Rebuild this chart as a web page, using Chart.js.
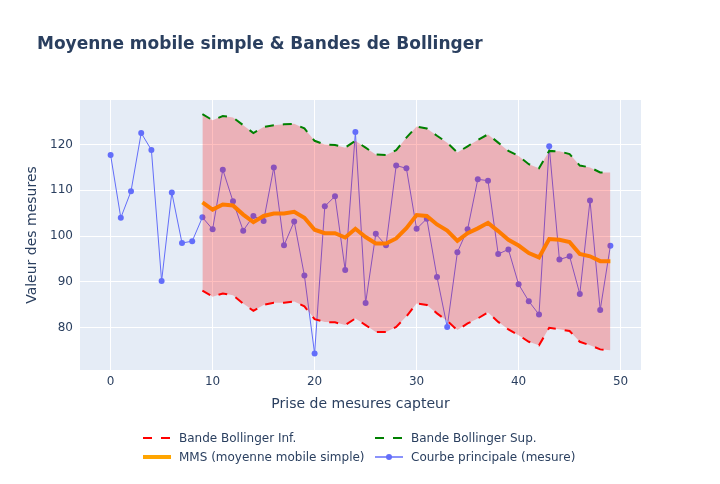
<!DOCTYPE html>
<html>
<head>
<meta charset="utf-8">
<script src="https://cdn.jsdelivr.net/npm/chart.js@4.4.1/dist/chart.umd.min.js"></script>
<style>
  body { margin: 0; background: #fff; }
  #wrap { position: relative; width: 720px; height: 484px; font-family: "DejaVu Sans", sans-serif; color: #2a3f5f; }
  #myChart { position: absolute; left: 0; top: 0; }
  #titre { position: absolute; left: 37px; top: 33px; font-size: 17px; font-weight: bold; line-height: 20px; white-space: nowrap; }
  .leg { position: absolute; height: 18px; font-size: 12px; line-height: 18px; white-space: nowrap; }
  .leg svg { position: absolute; left: 0; top: 0; }
  .leg span { position: absolute; left: 39px; top: 0; }
</style>
</head>
<body>
<div id="wrap">
  <canvas id="myChart" width="720" height="484"></canvas>
  <div id="titre">Moyenne mobile simple &amp; Bandes de Bollinger</div>
  <div id="legende"></div>
</div>
<script>
// valeurs
const mesures = [117.7, 104.0, 109.8, 122.5, 118.8, 90.2, 109.5, 98.5, 98.9, 104.1,
                 101.5, 114.5, 107.6, 101.2, 104.4, 103.3, 115.0, 98.0, 103.2, 91.4,
                 74.4, 106.5, 108.7, 92.6, 122.7, 85.4, 100.5, 98.0, 115.4, 114.8,
                 101.6, 103.8, 91.1, 80.2, 96.5, 101.5, 112.4, 112.1, 96.1, 97.1,
                 89.5, 85.8, 82.9, 119.6, 94.9, 95.6, 87.4, 107.8, 83.9, 97.9];

const debutMMS = 9; // fenetre de 10 mesures
const mms = [107.35, 105.8, 106.9, 106.7, 104.7, 103.05, 104.4, 104.95, 104.95, 105.3,
             104.0, 101.4, 100.65, 100.65, 99.7, 101.6, 99.8, 98.4, 98.4, 99.5,
             101.75, 104.6, 104.4, 102.55, 101.2, 98.95, 100.65, 101.7, 102.9, 101.1,
             99.2, 97.95, 96.3, 95.35, 99.35, 99.2, 98.7, 96.1, 95.6, 94.55, 94.55];
const bandeSup = [126.6, 125.3, 126.2, 125.9, 124.2, 122.5, 123.8, 124.2, 124.4, 124.5,
                  123.5, 120.8, 120.0, 119.9, 119.3, 120.8, 119.3, 117.8, 117.7, 118.75,
                  121.5, 123.9, 123.5, 121.9, 120.4, 118.25, 119.6, 121.0, 122.2, 120.4,
                  118.6, 117.5, 115.7, 114.8, 118.6, 118.5, 117.9, 115.4, 115.0, 113.9, 113.9];
const bandeInf = [88.1, 86.8, 87.5, 87.1, 85.3, 83.7, 85.0, 85.45, 85.45, 85.75,
                  84.7, 81.9, 81.25, 81.2, 80.6, 82.05, 80.6, 79.1, 79.1, 80.2,
                  82.5, 85.3, 85.0, 83.15, 81.5, 79.5, 80.95, 82.05, 83.35, 81.3,
                  79.65, 78.4, 76.95, 76.2, 80.0, 79.7, 79.3, 76.95, 76.2, 75.3, 75.1];

const xTicks = [0, 10, 20, 30, 40, 50];
const yTicks = [80, 90, 100, 110, 120];

const bleu = '#636EFA';
const texte = '#2a3f5f';
const police = 'DejaVu Sans';

function points(arr, start) {
    return arr.map(function(v, i) { return {x: i + start, y: v}; });
}

// fond gris-bleu de la zone de trace (comme plotly)
const fondZone = {
    id: 'fondZone',
    beforeDraw(chart) {
        const a = chart.chartArea;
        const ctx = chart.ctx;
        ctx.save();
        ctx.fillStyle = '#E5ECF6';
        ctx.fillRect(a.left, a.top, a.right - a.left, a.bottom - a.top);
        ctx.restore();
    }
};

const data = {
    datasets: [
        {
            label: 'Bande Bollinger Inf.',
            data: points(bandeInf, debutMMS),
            borderColor: 'red',
            borderWidth: 2,
            borderDash: [9, 9],
            pointRadius: 0,
            fill: false,
            order: 0
        },
        {
            label: 'Bande Bollinger Sup.',
            data: points(bandeSup, debutMMS),
            borderColor: 'green',
            borderWidth: 2,
            borderDash: [9, 9],
            pointRadius: 0,
            fill: '-1',
            backgroundColor: 'rgba(255,0,0,0.25)',
            order: 0
        },
        {
            label: 'MMS (moyenne mobile simple)',
            data: points(mms, debutMMS),
            borderColor: 'orange',
            borderWidth: 4,
            pointRadius: 0,
            fill: false,
            order: 1
        },
        {
            label: 'Courbe principale (mesure)',
            data: points(mesures, 0),
            borderColor: bleu,
            backgroundColor: bleu,
            borderWidth: 1,
            pointRadius: 3,
            pointBorderWidth: 0,
            pointBackgroundColor: bleu,
            fill: false,
            order: 1
        }
    ]
};

const config = {
    type: 'line',
    data: data,
    plugins: [fondZone],
    options: {
        responsive: false,
        animation: false,
        layout: { padding: {left: 0, right: 79, top: 100, bottom: 68} },
        elements: { line: { tension: 0 } },
        plugins: {
            legend: { display: false },
            title: { display: false },
            tooltip: { enabled: false }
        },
        scales: {
            x: {
                type: 'linear',
                min: -3,
                max: 52,
                afterBuildTicks: function(scale) {
                    scale.ticks = xTicks.map(function(v) { return {value: v}; });
                },
                afterFit: function(scale) { scale.height = 46; },
                grid: { color: '#ffffff', lineWidth: 1, drawTicks: false },
                border: { display: false },
                ticks: { padding: 5, color: texte, font: {family: police, size: 12} },
                title: {
                    display: true,
                    text: 'Prise de mesures capteur',
                    color: texte,
                    font: {family: police, size: 14},
                    padding: {bottom: 3}
                }
            },
            y: {
                type: 'linear',
                min: 70.8,
                max: 129.7,
                afterBuildTicks: function(scale) {
                    scale.ticks = yTicks.map(function(v) { return {value: v}; });
                },
                afterFit: function(scale) { scale.width = 80; },
                grid: { color: '#ffffff', lineWidth: 1, drawTicks: false },
                border: { display: false },
                ticks: { padding: 7, color: texte, font: {family: police, size: 12} },
                title: {
                    display: true,
                    text: 'Valeur des mesures',
                    color: texte,
                    font: {family: police, size: 14},
                    padding: {top: 24}
                }
            }
        }
    }
};

const ctx = document.getElementById('myChart').getContext('2d');
var chart = new Chart(ctx, config);

// legende facon plotly (2 colonnes)
const legPos = [[140, 429], [372, 429], [140, 448], [372, 448]];
const leg = document.getElementById('legende');
data.datasets.forEach(function(ds, i) {
    var d = document.createElement('div');
    d.className = 'leg';
    d.style.left = legPos[i][0] + 'px';
    d.style.top = legPos[i][1] + 'px';
    var dash = ds.borderDash ? ' stroke-dasharray="9,9"' : '';
    var w = ds.borderWidth === 1 ? 1.5 : ds.borderWidth;
    var svg = '<svg width="36" height="18"><line x1="3" y1="9" x2="31" y2="9" stroke="' + ds.borderColor +
              '" stroke-width="' + w + '"' + dash + '/>';
    if (ds.pointRadius > 0) {
        svg += '<circle cx="17" cy="9" r="3" fill="' + ds.pointBackgroundColor + '"/>';
    }
    svg += '</svg>';
    d.innerHTML = svg + '<span>' + ds.label + '</span>';
    leg.appendChild(d);
});
</script>
</body>
</html>
